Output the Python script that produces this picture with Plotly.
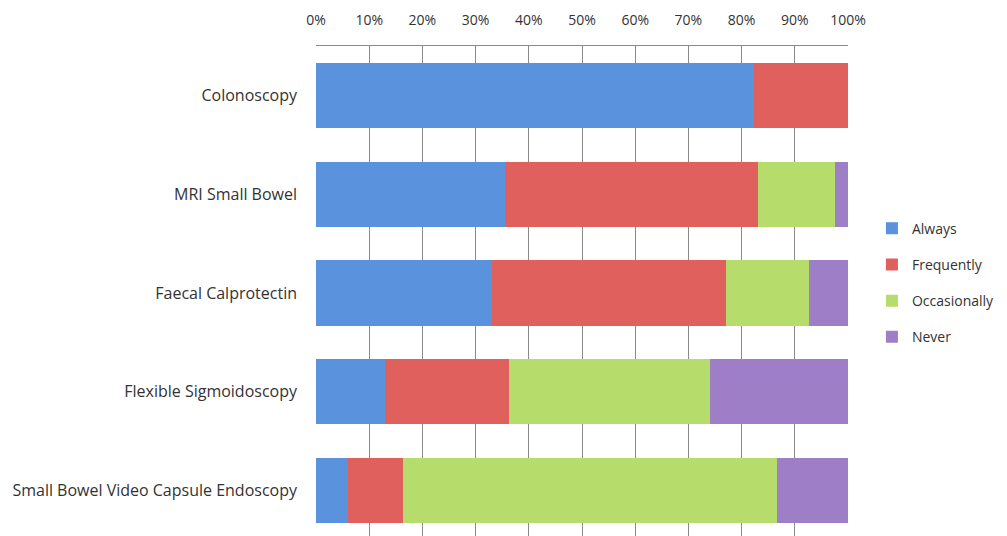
import plotly.graph_objects as go

categories = ["Colonoscopy", "MRI Small Bowel", "Faecal Calprotectin",
              "Flexible Sigmoidoscopy", "Small Bowel Video Capsule Endoscopy"]
always = [82.4, 35.6, 33.0, 13.0, 6.1]
frequently = [17.6, 47.5, 44.1, 23.3, 10.3]
occasionally = [0.0, 14.4, 15.6, 37.8, 70.3]
never = [0.0, 2.5, 7.3, 25.9, 13.3]
tick_vals = [0, 10, 20, 30, 40, 50, 60, 70, 80, 90, 100]
tick_text = [f"{v}%" for v in tick_vals]

series = [
    ("Always", always, "#5a92de"),
    ("Frequently", frequently, "#e0605d"),
    ("Occasionally", occasionally, "#b6dc6c"),
    ("Never", never, "#9f7ec8"),
]

fig = go.Figure()
for name, vals, color in series:
    fig.add_trace(go.Bar(
        y=categories, x=vals, name=name, orientation="h",
        marker=dict(color=color, line=dict(width=0)),
        legendgroup=name,
    ))

font = "'Open Sans', sans-serif"
fig.update_layout(
    width=1007, height=536,
    margin=dict(l=308, r=167, t=38, b=4, autoexpand=False),
    barmode="stack", bargap=0.34,
    plot_bgcolor="white", paper_bgcolor="white",
    font=dict(family=font, size=14, color="#333333"),
    legend=dict(x=1.045, xanchor="left", y=0.521, yanchor="middle",
                traceorder="grouped", tracegroupgap=15,
                font=dict(size=14, color="#333333"),
                itemwidth=30),
    showlegend=True,
)
fig.update_xaxes(
    range=[0, 100], side="top", tickvals=tick_vals, ticktext=tick_text,
    showgrid=True, gridcolor="#8a8a8a", gridwidth=1,
    showline=True, linecolor="#8a8a8a", mirror=True,
    zeroline=False, ticklabelstandoff=14, automargin=False,
    tickfont=dict(size=14, color="#333333"),
    fixedrange=True,
)
fig.update_yaxes(
    autorange="reversed", showgrid=False, showline=False,
    ticklabelstandoff=18, automargin=False,
    tickfont=dict(size=16, color="#333333"),
    fixedrange=True,
)
fig.write_html("out.html")
